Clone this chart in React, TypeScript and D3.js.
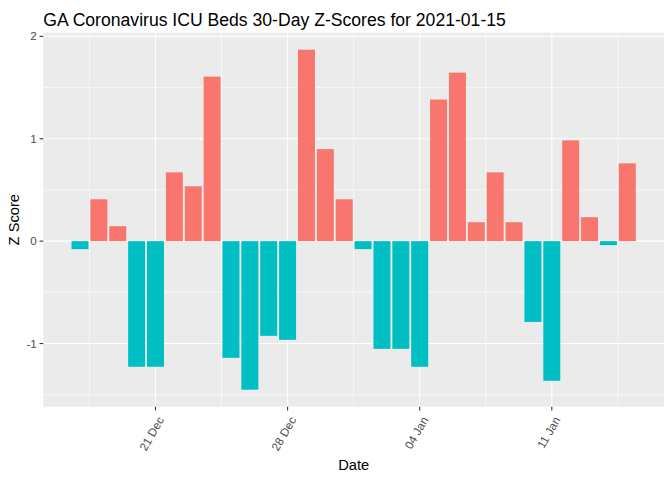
import React, { useEffect, useRef } from "react";
import * as d3 from "d3";

// one bar per day, Dec 17 2020 .. Jan 15 2021
const dates = [
  "2020-12-17", "2020-12-18", "2020-12-19", "2020-12-20", "2020-12-21",
  "2020-12-22", "2020-12-23", "2020-12-24", "2020-12-25", "2020-12-26",
  "2020-12-27", "2020-12-28", "2020-12-29", "2020-12-30", "2020-12-31",
  "2021-01-01", "2021-01-02", "2021-01-03", "2021-01-04", "2021-01-05",
  "2021-01-06", "2021-01-07", "2021-01-08", "2021-01-09", "2021-01-10",
  "2021-01-11", "2021-01-12", "2021-01-13", "2021-01-14", "2021-01-15",
];

const zScores = [
  -0.078, 0.409, 0.146, -1.227, -1.227, 0.672, 0.536, 1.607, -1.14, -1.451,
  -0.925, -0.964, 1.87, 0.899, 0.409, -0.078, -1.052, -1.052, -1.227, 1.383,
  1.646, 0.185, 0.672, 0.185, -0.789, -1.364, 0.984, 0.234, -0.039, 0.76,
];

const xTickDates = ["2020-12-21", "2020-12-28", "2021-01-04", "2021-01-11"];
const xMinorDates = ["2020-12-17T12:00", "2020-12-24T12:00", "2020-12-31T12:00", "2021-01-07T12:00", "2021-01-14T12:00"];
const yTicks = [-1, 0, 1, 2];
const yMinor = [-1.5, -0.5, 0.5, 1.5];

const titleText = "GA Coronavirus ICU Beds 30-Day Z-Scores for 2021-01-15";

function App() {
  const svgRef = useRef(null);

  useEffect(() => {
    const width = 672;
    const height = 480;
    const panel = { left: 43.3, right: 664, top: 32.7, bottom: 406.7 };
    const font = "'Liberation Sans', Arial, Helvetica, sans-serif";

    const parse = (s: string) => new Date(s.length > 10 ? s + ":00Z" : s + "T00:00:00Z");
    const data = dates.map((d, i) => ({ date: parse(d), value: zScores[i] }));
    const day = 86400000;

    // ggplot-like expansion of 5% on each side
    const xMin = +data[0].date - 0.45 * day;
    const xMax = +data[data.length - 1].date + 0.45 * day;
    const xPad = (xMax - xMin) * 0.05;
    const x = d3
      .scaleUtc()
      .domain([new Date(xMin - xPad), new Date(xMax + xPad)])
      .range([panel.left, panel.right]);

    const yLo = d3.min(zScores) as number;
    const yHi = d3.max(zScores) as number;
    const yPad = (yHi - yLo) * 0.05;
    const y = d3
      .scaleLinear()
      .domain([yLo - yPad, yHi + yPad])
      .range([panel.bottom, panel.top]);

    const svg = d3.select(svgRef.current).attr("width", width).attr("height", height);
    svg.selectAll("*").remove();

    svg.append("rect").attr("width", width).attr("height", height).attr("fill", "white");

    svg
      .append("rect")
      .attr("x", panel.left)
      .attr("y", panel.top)
      .attr("width", panel.right - panel.left)
      .attr("height", panel.bottom - panel.top)
      .attr("fill", "#EBEBEB");

    const grid = svg.append("g").attr("stroke", "white");

    grid
      .selectAll("line.ymin")
      .data(yMinor)
      .enter()
      .append("line")
      .attr("x1", panel.left)
      .attr("x2", panel.right)
      .attr("y1", (d) => y(d))
      .attr("y2", (d) => y(d))
      .attr("stroke-width", 0.6);

    grid
      .selectAll("line.xmin")
      .data(xMinorDates)
      .enter()
      .append("line")
      .attr("y1", panel.top)
      .attr("y2", panel.bottom)
      .attr("x1", (d) => x(parse(d)))
      .attr("x2", (d) => x(parse(d)))
      .attr("stroke-width", 0.6);

    grid
      .selectAll("line.ymaj")
      .data(yTicks)
      .enter()
      .append("line")
      .attr("x1", panel.left)
      .attr("x2", panel.right)
      .attr("y1", (d) => y(d))
      .attr("y2", (d) => y(d))
      .attr("stroke-width", 1.1);

    grid
      .selectAll("line.xmaj")
      .data(xTickDates)
      .enter()
      .append("line")
      .attr("y1", panel.top)
      .attr("y2", panel.bottom)
      .attr("x1", (d) => x(parse(d)))
      .attr("x2", (d) => x(parse(d)))
      .attr("stroke-width", 1.1);

    svg
      .append("g")
      .selectAll("rect")
      .data(data)
      .enter()
      .append("rect")
      .attr("x", (d) => x(new Date(+d.date - 0.45 * day)))
      .attr("width", (d) => x(new Date(+d.date + 0.45 * day)) - x(new Date(+d.date - 0.45 * day)))
      .attr("y", (d) => y(Math.max(0, d.value)))
      .attr("height", (d) => Math.abs(y(d.value) - y(0)))
      .attr("fill", (d) => (d.value > 0 ? "#F8766D" : "#00BFC4"));

    // y axis
    const yAxis = svg.append("g");
    yTicks.forEach((t) => {
      yAxis
        .append("line")
        .attr("x1", panel.left - 3.7)
        .attr("x2", panel.left)
        .attr("y1", y(t))
        .attr("y2", y(t))
        .attr("stroke", "#333333")
        .attr("stroke-width", 1.1);
      yAxis
        .append("text")
        .attr("x", panel.left - 6.5)
        .attr("y", y(t))
        .attr("dy", "0.35em")
        .attr("text-anchor", "end")
        .attr("font-family", font)
        .attr("font-size", 11.7)
        .attr("fill", "#4D4D4D")
        .text(String(t));
    });

    // x axis
    const xAxis = svg.append("g");
    const fmt = d3.utcFormat("%d %b");
    xTickDates.forEach((s) => {
      const px = x(parse(s));
      xAxis
        .append("line")
        .attr("x1", px)
        .attr("x2", px)
        .attr("y1", panel.bottom)
        .attr("y2", panel.bottom + 3.7)
        .attr("stroke", "#333333")
        .attr("stroke-width", 1.1);
      xAxis
        .append("text")
        .attr("transform", `translate(${px + 9},${panel.bottom + 13}) rotate(-60)`)
        .attr("text-anchor", "end")
        .attr("font-family", font)
        .attr("font-size", 11.7)
        .attr("fill", "#4D4D4D")
        .text(fmt(parse(s)));
    });

    svg
      .append("text")
      .attr("x", (panel.left + panel.right) / 2)
      .attr("y", 470)
      .attr("text-anchor", "middle")
      .attr("font-family", font)
      .attr("font-size", 14.7)
      .attr("fill", "black")
      .text("Date");

    svg
      .append("text")
      .attr("transform", `translate(19,${(panel.top + panel.bottom) / 2}) rotate(-90)`)
      .attr("text-anchor", "middle")
      .attr("font-family", font)
      .attr("font-size", 14.7)
      .attr("fill", "black")
      .text("Z Score");

    svg
      .append("text")
      .attr("x", panel.left)
      .attr("y", 26)
      .attr("font-family", font)
      .attr("font-size", 17.6)
      .attr("fill", "black")
      .text(titleText);
  }, []);

  return (
    <div style={{ position: "absolute", left: 0, top: 0 }}>
      <svg ref={svgRef} style={{ display: "block" }} />
    </div>
  );
}

export default App;
